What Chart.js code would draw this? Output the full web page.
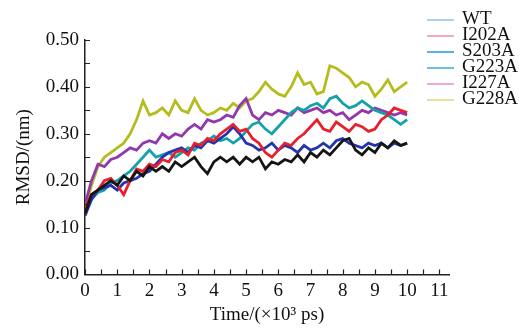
<!DOCTYPE html>
<html>
<head>
<meta charset="utf-8">
<script src="https://cdn.jsdelivr.net/npm/chart.js@4.4.1/dist/chart.umd.min.js"></script>
<style>
  html, body { margin: 0; padding: 0; background: #fff; }
  #wrap { width: 525px; height: 328px; position: relative; }
</style>
</head>
<body>
<div id="wrap"><canvas id="canvas" width="525" height="328"></canvas></div>
<script>
// time in 10^3 ps, one sample every 0.2
let times = [0, 0.2, 0.4, 0.6, 0.8, 1, 1.2, 1.4, 1.6, 1.8, 2, 2.2, 2.4, 2.6, 2.8, 3, 3.2, 3.4, 3.6, 3.8,
  4, 4.2, 4.4, 4.6, 4.8, 5, 5.2, 5.4, 5.6, 5.8, 6, 6.2, 6.4, 6.6, 6.8, 7, 7.2, 7.4, 7.6, 7.8,
  8, 8.2, 8.4, 8.6, 8.8, 9, 9.2, 9.4, 9.6, 9.8, 10]

let seriesNames = ["WT", "I202A", "S203A", "G223A", "I227A", "G228A"]

let wt = [0.13, 0.17, 0.18, 0.19, 0.20, 0.19, 0.21, 0.20, 0.22, 0.21, 0.23, 0.22, 0.23, 0.22, 0.24, 0.23, 0.24, 0.25, 0.23, 0.215,
  0.24, 0.25, 0.24, 0.25, 0.235, 0.25, 0.24, 0.25, 0.225, 0.24, 0.235, 0.245, 0.24, 0.255, 0.24, 0.26, 0.25, 0.265, 0.255, 0.27,
  0.285, 0.29, 0.265, 0.255, 0.27, 0.26, 0.28, 0.27, 0.285, 0.275, 0.28]
let i202a = [0.14, 0.17, 0.18, 0.20, 0.205, 0.19, 0.17, 0.20, 0.225, 0.22, 0.235, 0.23, 0.245, 0.24, 0.26, 0.265, 0.255, 0.28, 0.275, 0.29,
  0.285, 0.30, 0.31, 0.32, 0.305, 0.31, 0.29, 0.28, 0.26, 0.25, 0.265, 0.28, 0.275, 0.29, 0.30, 0.315, 0.33, 0.31, 0.305, 0.325,
  0.315, 0.305, 0.32, 0.315, 0.305, 0.31, 0.33, 0.34, 0.355, 0.35, 0.345]
let s203a = [0.125, 0.16, 0.18, 0.185, 0.19, 0.18, 0.195, 0.20, 0.205, 0.215, 0.22, 0.235, 0.25, 0.26, 0.265, 0.27, 0.26, 0.275, 0.27, 0.285,
  0.28, 0.29, 0.30, 0.315, 0.30, 0.28, 0.275, 0.265, 0.27, 0.28, 0.265, 0.275, 0.27, 0.26, 0.275, 0.265, 0.27, 0.28, 0.27, 0.285,
  0.29, 0.28, 0.275, 0.27, 0.28, 0.275, 0.28, 0.27, 0.28, 0.275, 0.28]
let g223a = [0.13, 0.16, 0.175, 0.18, 0.195, 0.20, 0.21, 0.22, 0.235, 0.25, 0.265, 0.25, 0.255, 0.26, 0.25, 0.26, 0.27, 0.265, 0.28, 0.285,
  0.295, 0.285, 0.29, 0.28, 0.29, 0.305, 0.32, 0.325, 0.31, 0.30, 0.315, 0.33, 0.345, 0.355, 0.35, 0.36, 0.365, 0.355, 0.375, 0.38,
  0.365, 0.355, 0.36, 0.37, 0.36, 0.35, 0.345, 0.34, 0.33, 0.32, 0.33]
let i227a = [0.15, 0.20, 0.235, 0.23, 0.245, 0.25, 0.26, 0.27, 0.265, 0.28, 0.285, 0.28, 0.30, 0.29, 0.30, 0.295, 0.31, 0.32, 0.31, 0.33,
  0.325, 0.33, 0.34, 0.335, 0.36, 0.375, 0.34, 0.33, 0.345, 0.34, 0.35, 0.345, 0.34, 0.355, 0.345, 0.35, 0.355, 0.345, 0.35, 0.34,
  0.345, 0.33, 0.34, 0.35, 0.345, 0.355, 0.35, 0.345, 0.34, 0.345, 0.34]
let g228a = [0.14, 0.19, 0.23, 0.25, 0.26, 0.27, 0.28, 0.30, 0.33, 0.37, 0.34, 0.345, 0.355, 0.34, 0.37, 0.35, 0.345, 0.375, 0.35, 0.34,
  0.345, 0.355, 0.35, 0.365, 0.355, 0.37, 0.375, 0.39, 0.41, 0.395, 0.385, 0.38, 0.40, 0.43, 0.405, 0.41, 0.385, 0.39, 0.445, 0.44,
  0.43, 0.42, 0.40, 0.41, 0.405, 0.38, 0.395, 0.415, 0.39, 0.40, 0.41]

let xTickValues = [0, 0.5, 1, 1.5, 2, 2.5, 3, 3.5, 4, 4.5, 5, 5.5, 6, 6.5, 7, 7.5, 8, 8.5, 9, 9.5, 10, 10.5, 11]

let lineColors = ["#151515", "#e8202c", "#2434b0", "#14a2aa", "#9238ac", "#b4bc1e"]
let legendColors = ["#a8d4ec", "#f4a8c8", "#5ab2e4", "#6cc0e8", "#eaa8dc", "#e2e29a"]

let serif = "'Liberation Serif', 'Times New Roman', serif"

let toPoints = function(vals) {
  return vals.map((v, i) => ({ x: times[i], y: v }))
}

// inward tick marks on both axes
let innerTicks = {
  id: 'innerTicks',
  afterDraw(chart) {
    let ctx = chart.ctx
    let xs = chart.scales.x, ys = chart.scales.y
    ctx.save()
    ctx.strokeStyle = '#222'
    ctx.lineWidth = 1.2
    ctx.beginPath()
    for (let t of xs.ticks) {
      let px = Math.round(xs.getPixelForValue(t.value)) + 0.5
      ctx.moveTo(px, ys.bottom)
      ctx.lineTo(px, ys.bottom - 5)
    }
    for (let t of ys.ticks) {
      let py = Math.round(ys.getPixelForValue(t.value)) + 0.5
      ctx.moveTo(xs.left, py)
      ctx.lineTo(xs.left + 5, py)
    }
    ctx.stroke()
    ctx.restore()
  }
}

// legend sits top right, partly over the plot
let sideLegend = {
  id: 'sideLegend',
  afterDraw(chart) {
    let ctx = chart.ctx
    ctx.save()
    ctx.font = "19px " + serif
    ctx.textBaseline = 'middle'
    ctx.fillStyle = '#111'
    chart.data.datasets.forEach((ds, i) => {
      let y = 19 + i * 16
      ctx.strokeStyle = legendColors[i]
      ctx.lineWidth = 2
      ctx.beginPath()
      ctx.moveTo(427, y + 1)
      ctx.lineTo(454, y + 1)
      ctx.stroke()
      ctx.fillText(ds.label, 462, y)
    })
    ctx.restore()
  }
}

let allSeries = [wt, i202a, s203a, g223a, i227a, g228a]

let ctx = document.getElementById('canvas').getContext('2d')

window.my_chart = new Chart(ctx, {
  type: 'line',
  data: {
    datasets: allSeries.map((vals, i) => ({
      label: seriesNames[i],
      data: toPoints(vals),
      borderColor: lineColors[i],
      borderWidth: 2.8,
      pointRadius: 0,
      tension: 0,
      fill: false
    }))
  },
  plugins: [innerTicks, sideLegend],
  options: {
    responsive: false,
    animation: false,
    layout: { padding: { left: 13, right: 76, top: 40, bottom: 2 } },
    plugins: {
      legend: { display: false },
      tooltip: { enabled: false }
    },
    scales: {
      x: {
        type: 'linear',
        min: 0,
        max: 11.3,
        afterBuildTicks: (axis) => { axis.ticks = xTickValues.map(v => ({ value: v })) },
        grid: { display: false, drawTicks: false },
        border: { display: true, color: '#222', width: 1.5 },
        ticks: {
          autoSkip: false,
          maxRotation: 0,
          padding: 5,
          color: '#111',
          font: { family: serif, size: 19 },
          callback: (v) => Number.isInteger(v) ? String(v) : ''
        },
        title: {
          display: true,
          text: 'Time/(×10³ ps)',
          color: '#111',
          font: { family: serif, size: 19 },
          padding: { top: -4, bottom: 0 }
        }
      },
      y: {
        min: 0,
        max: 0.5,
        ticks: {
          stepSize: 0.05,
          autoSkip: false,
          padding: 6,
          color: '#111',
          font: { family: serif, size: 19 },
          callback: (v) => Math.round(v * 100) % 10 === 0 ? v.toFixed(2) : ''
        },
        grid: { display: false, drawTicks: false },
        border: { display: true, color: '#222', width: 1.5 },
        title: {
          display: true,
          text: 'RMSD/(nm)',
          color: '#111',
          font: { family: serif, size: 19 },
          padding: { top: 0, bottom: 4 }
        }
      }
    }
  }
})
</script>
</body>
</html>
